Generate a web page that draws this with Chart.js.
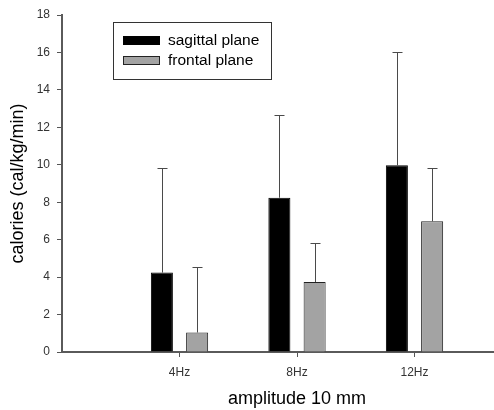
<!DOCTYPE html>
<html>
<head>
<meta charset="utf-8">
<script src="https://cdn.jsdelivr.net/npm/chart.js@4.4.1/dist/chart.umd.min.js"></script>
<style>
  html, body { margin: 0; padding: 0; background: #fff; }
  #wrap { width: 494px; height: 410px; overflow: hidden; position: relative; }
  canvas { display: block; }
</style>
</head>
<body>
<div id="wrap"><canvas id="c" width="532" height="410"></canvas></div>
<script>
// ---- data ----
const categories = ["4Hz", "8Hz", "12Hz"];
const seriesNames = ["sagittal plane", "frontal plane"];
const sagittal = [4.24, 8.24, 9.97];
const frontal = [1.04, 3.74, 6.98];
const sagittalErr = [5.58, 4.43, 6.08];
const frontalErr = [3.50, 2.06, 2.84];
const yTicks = [0, 2, 4, 6, 8, 10, 12, 14, 16, 18];

const FONT = "'Liberation Sans', Arial, sans-serif";
const errs = [sagittalErr, frontalErr];

const errorBarPlugin = {
  id: 'errorBars',
  afterDatasetsDraw(chart) {
    const ctx = chart.ctx;
    const yScale = chart.scales.y;
    ctx.save();
    ctx.strokeStyle = '#4a4a4a';
    ctx.lineWidth = 1;
    chart.data.datasets.forEach((ds, di) => {
      const meta = chart.getDatasetMeta(di);
      meta.data.forEach((bar, i) => {
        const v = ds.data[i].y;
        const top = yScale.getPixelForValue(v + errs[di][i]);
        const x = Math.round(bar.x) + 0.5;
        ctx.beginPath();
        ctx.moveTo(x, bar.y);
        ctx.lineTo(x, Math.round(top) + 0.5);
        ctx.moveTo(x - 5, Math.round(top) + 0.5);
        ctx.lineTo(x + 5, Math.round(top) + 0.5);
        ctx.stroke();
      });
    });
    ctx.restore();
  }
};

const boxLegendPlugin = {
  id: 'boxLegend',
  afterDraw(chart) {
    const ctx = chart.ctx;
    ctx.save();
    ctx.strokeStyle = '#333';
    ctx.lineWidth = 1;
    ctx.strokeRect(113.5, 22.5, 158, 57);
    ctx.font = '15.5px ' + FONT;
    ctx.textBaseline = 'middle';
    ctx.fillStyle = '#000';
    chart.data.datasets.forEach((ds, di) => {
      const y = di === 0 ? 36 : 56;
      ctx.fillStyle = ds.backgroundColor;
      ctx.fillRect(123, y, 37, 9);
      ctx.strokeStyle = ds.borderColor;
      ctx.strokeRect(123.5, y + 0.5, 36, 8);
      ctx.fillStyle = '#000';
      ctx.fillText(ds.label, 168, y + 5);
    });
    ctx.restore();
  }
};

new Chart(document.getElementById('c'), {
  type: 'bar',
  data: {
    datasets: [
      {
        label: seriesNames[0],
        data: sagittal.map((v, i) => ({ x: i + 1, y: v })),
        backgroundColor: '#000000',
        borderColor: '#000000',
        borderWidth: 1
      },
      {
        label: seriesNames[1],
        data: frontal.map((v, i) => ({ x: i + 1, y: v })),
        backgroundColor: '#a3a3a3',
        borderColor: '#222222',
        borderWidth: 1
      }
    ]
  },
  options: {
    responsive: false,
    animation: false,
    events: [],
    categoryPercentage: 0.6,
    barPercentage: 0.625,
    layout: { padding: { top: 15, right: 0, bottom: 0, left: 0 } },
    plugins: { legend: { display: false }, tooltip: { enabled: false } },
    scales: {
      x: {
        type: 'linear',
        min: 0,
        max: 4,
        offset: false,
        afterBuildTicks(scale) {
          scale.ticks = categories.map((c, i) => ({ value: i + 1 }));
        },
        afterFit(scale) { scale.height = 58; },
        ticks: {
          callback: (v) => categories[v - 1] ?? '',
          font: { family: FONT, size: 12 },
          color: '#333',
          padding: 8,
          maxRotation: 0
        },
        grid: { display: true, offset: false, drawOnChartArea: false, drawTicks: true, tickLength: 5, color: '#555' },
        border: { display: true, color: '#5a5a5a', width: 2 },
        title: {
          display: true,
          text: 'amplitude 10 mm',
          font: { family: FONT, size: 18 },
          color: '#000',
          padding: { top: 0, bottom: 0 }
        }
      },
      y: {
        min: 0,
        max: 18,
        afterBuildTicks(scale) {
          scale.ticks = yTicks.map(v => ({ value: v }));
        },
        afterFit(scale) { scale.width = 62; },
        ticks: {
          font: { family: FONT, size: 12 },
          color: '#333',
          padding: 7
        },
        grid: { display: true, drawOnChartArea: false, drawTicks: true, tickLength: 5, color: '#555' },
        border: { display: true, color: '#5a5a5a', width: 2 },
        title: {
          display: true,
          text: 'calories (cal/kg/min)',
          font: { family: FONT, size: 18 },
          color: '#000',
          padding: { top: 7, bottom: 0 }
        }
      }
    }
  },
  plugins: [errorBarPlugin, boxLegendPlugin]
});
</script>
</body>
</html>
